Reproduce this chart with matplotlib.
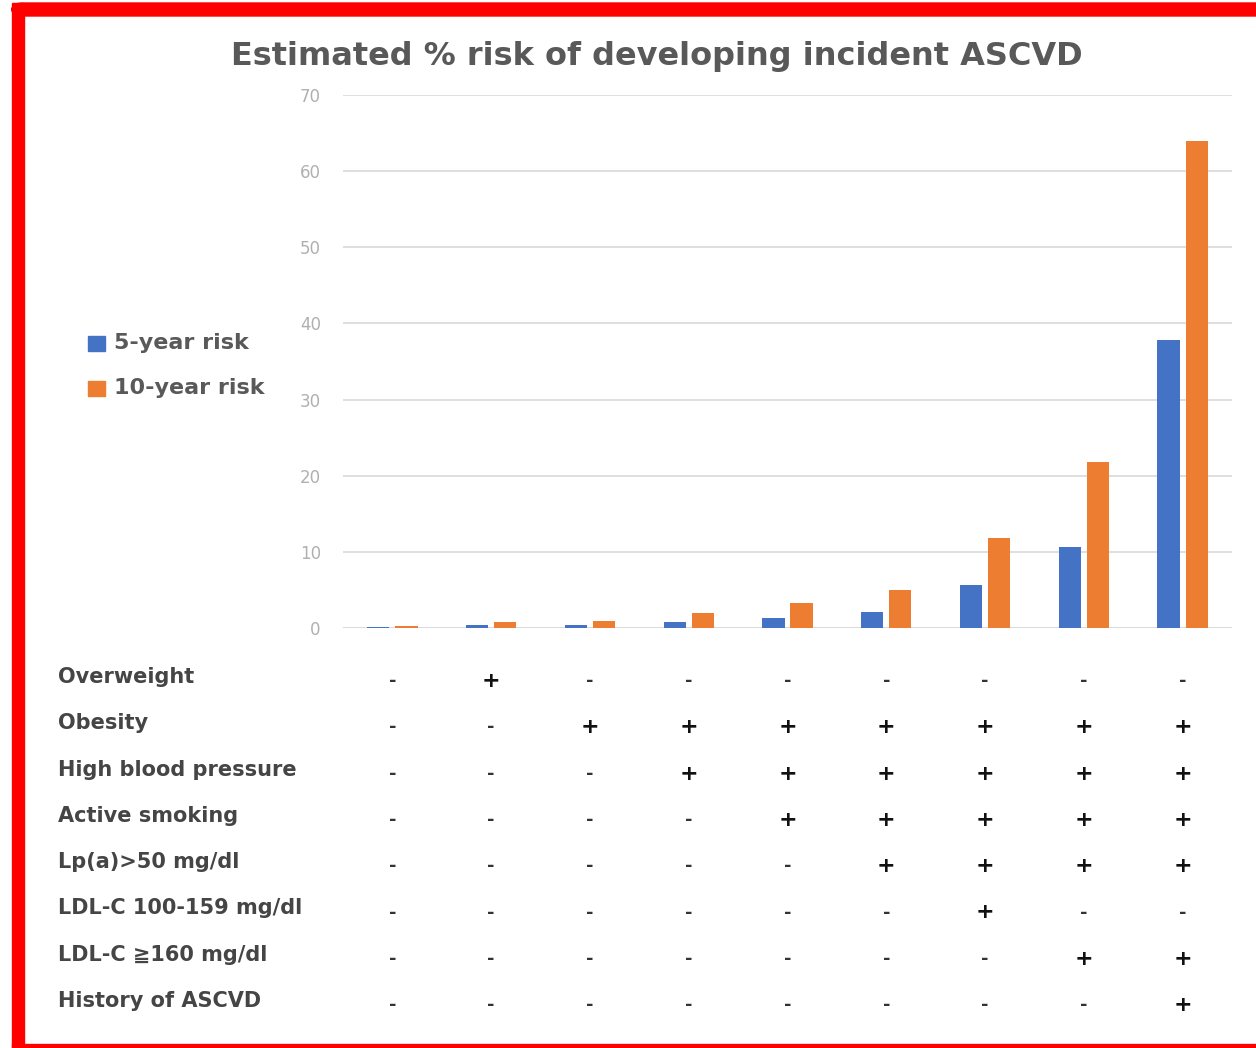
import numpy as np
import matplotlib
matplotlib.use('Agg')
import matplotlib.pyplot as plt
import matplotlib.transforms as mtransforms
from matplotlib.patches import Rectangle, FancyBboxPatch

plt.rcParams['font.family'] = ['DejaVu Sans', 'Noto Sans CJK JP']

# risk (%) for each risk-factor combination
five_year = [0.1, 0.4, 0.4, 0.8, 1.3, 2.1, 5.7, 10.7, 37.8]
ten_year = [0.2, 0.8, 0.9, 2.0, 3.3, 5.0, 11.8, 21.8, 64.0]
series_names = ['5-year risk', '10-year risk']

factor_names = ['Overweight', 'Obesity', 'High blood pressure', 'Active smoking',
                'Lp(a)>50 mg/dl', 'LDL-C 100-159 mg/dl', 'LDL-C \u2267160 mg/dl',
                'History of ASCVD']
factor_table = [
    '-+-------',
    '--+++++++',
    '---++++++',
    '----+++++',
    '-----++++',
    '------+--',
    '-------++',
    '--------+',
]
y_ticks = [0, 10, 20, 30, 40, 50, 60, 70]

blue = '#4472C4'
orange = '#ED7D31'

fig = plt.figure(figsize=(12.56, 10.48), dpi=100)
W, H = 1256, 1048

# red frame around the panel
fig.patches.append(Rectangle((12 / W, 0), 12 / W, 1 - 3 / H, transform=fig.transFigure,
                             color='red', zorder=0))
fig.patches.append(FancyBboxPatch((12 / W, 1 - 16 / H), 1.0, 13 / H,
                                  boxstyle='round,pad=0,rounding_size=0.008',
                                  transform=fig.transFigure, color='red', zorder=0))
fig.patches.append(Rectangle((12 / W, 0), 1.0, 4 / H, transform=fig.transFigure,
                             color='red', zorder=0))

ax = fig.add_axes([343 / W, 1 - 628 / H, (1232 - 343) / W, (628 - 95) / H])
x = np.arange(len(five_year))
bw = 0.225
off = 0.142
ax.bar(x - off, five_year, bw, color=blue, zorder=3)
ax.bar(x + off, ten_year, bw, color=orange, zorder=3)

ax.set_xlim(-0.5, len(x) - 0.5)
ax.set_ylim(0, 70)
ax.set_yticks(y_ticks)
ax.set_yticklabels([str(t) for t in y_ticks], color='#b0b0b0', fontsize=12)
ax.tick_params(axis='y', length=0, pad=16)
ax.set_xticks([])
ax.grid(axis='y', color='#d9d9d9', linewidth=1.2, zorder=0)
for s in ax.spines.values():
    s.set_visible(False)
ax.axhline(0, color='#d9d9d9', linewidth=1.2, zorder=1)

fig.text(657 / W, 1 - 56 / H, 'Estimated % risk of developing incident ASCVD',
         ha='center', va='center', fontsize=23, fontweight='bold', color='#595959')

# legend on the left
for i, (name, c) in enumerate(zip(series_names, [blue, orange])):
    yc = 1 - (343 + 45 * i) / H
    fig.patches.append(Rectangle((88 / W, yc - 8 / H), 17 / W, 15 / H,
                                 transform=fig.transFigure, color=c))
    fig.text(114 / W, yc, name, ha='left', va='center', fontsize=16,
             fontweight='bold', color='#595959')

# risk factor table under the bars
trans = mtransforms.blended_transform_factory(ax.transData, fig.transFigure)
for r, (name, row) in enumerate(zip(factor_names, factor_table)):
    yr = 1 - (677 + 46.3 * r) / H
    fig.text(58 / W, yr, name, ha='left', va='center', fontsize=15,
             fontweight='bold', color='#454545')
    for j, sign in enumerate(row):
        if sign == '+':
            ax.text(x[j], yr - 4 / H, '+', transform=trans, ha='center', va='center',
                    fontsize=16, fontweight='bold', color='#111111')
        else:
            ax.text(x[j], yr - 4 / H, '-', transform=trans, ha='center', va='center',
                    fontsize=13, fontweight='bold', color='#333333')

fig.savefig('out.png', dpi=100)
